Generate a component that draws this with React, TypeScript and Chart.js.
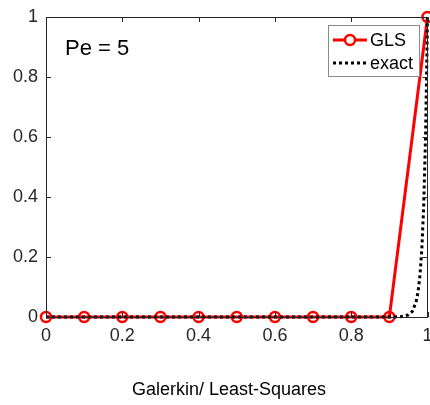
import { useEffect, useRef } from "react";
import { Chart, registerables } from "chart.js";

Chart.register(...registerables);

// ---- data ----
const glsX = [0, 0.1, 0.2, 0.3, 0.4, 0.5, 0.6, 0.7, 0.8, 0.9, 1];
const glsY = [0, 0, 0, 0, 0, 0, 0, 0, 0, 0, 1];
const exactX = [0, 0.5, 0.9, 0.93, 0.95, 0.96, 0.97, 0.975, 0.98, 0.985, 0.99, 0.995, 1];
const exactY = [0, 0, 0, 0.001, 0.007, 0.018, 0.05, 0.082, 0.135, 0.223, 0.368, 0.607, 1];
const xTicks = [0, 0.2, 0.4, 0.6, 0.8, 1];
const yTicks = [0, 0.2, 0.4, 0.6, 0.8, 1];
const seriesNames = ["GLS", "exact"];
const annotationText = "Pe = 5";
const xTitleText = "Galerkin/ Least-Squares";

const FONT = "'Liberation Sans', Arial, Helvetica, sans-serif";
const AXIS = "#262626";
const RED = "rgb(255,0,0)";

const decorPlugin = {
  id: "decor",
  afterDraw(chart: any) {
    const { ctx, chartArea } = chart;
    const { left, right, top, bottom } = chartArea;
    const xs = chart.scales.x;
    const ys = chart.scales.y;
    ctx.save();
    // box
    ctx.strokeStyle = AXIS;
    ctx.lineWidth = 1;
    ctx.setLineDash([]);
    ctx.strokeRect(Math.round(left) + 0.5, Math.round(top) + 0.5, Math.round(right - left) - 1, Math.round(bottom - top));
    // inward ticks
    const tl = 5;
    ctx.beginPath();
    xTicks.forEach((v) => {
      const px = Math.round(xs.getPixelForValue(v)) + 0.5;
      ctx.moveTo(px, bottom);
      ctx.lineTo(px, bottom - tl);
      ctx.moveTo(px, top);
      ctx.lineTo(px, top + tl);
    });
    yTicks.forEach((v) => {
      const py = Math.round(ys.getPixelForValue(v)) + 0.5;
      ctx.moveTo(left, py);
      ctx.lineTo(left + tl, py);
      ctx.moveTo(right, py);
      ctx.lineTo(right - tl, py);
    });
    ctx.stroke();

    // annotation
    ctx.fillStyle = "#000";
    ctx.font = `22px ${FONT}`;
    ctx.textAlign = "left";
    ctx.textBaseline = "alphabetic";
    ctx.fillText(annotationText, 65, 55);

    // x title
    ctx.fillStyle = "#000";
    ctx.font = `18px ${FONT}`;
    ctx.textAlign = "center";
    ctx.textBaseline = "middle";
    ctx.fillText(xTitleText, 229, 390);

    // legend
    const lx = 328, ly = 25, lw = 91, lh = 51;
    ctx.fillStyle = "#fff";
    ctx.fillRect(lx, ly, lw, lh);
    ctx.strokeStyle = "#8a8a8a";
    ctx.lineWidth = 1;
    ctx.strokeRect(lx + 0.5, ly + 0.5, lw, lh);
    const rows = [40, 63];
    // GLS row
    ctx.strokeStyle = RED;
    ctx.lineWidth = 3;
    ctx.beginPath();
    ctx.moveTo(333, rows[0]);
    ctx.lineTo(367, rows[0]);
    ctx.stroke();
    ctx.lineWidth = 2.5;
    ctx.fillStyle = "#fff";
    ctx.beginPath();
    ctx.arc(350, rows[0], 5, 0, Math.PI * 2);
    ctx.fill();
    ctx.stroke();
    // exact row
    ctx.strokeStyle = "#000";
    ctx.lineWidth = 3;
    ctx.setLineDash([3, 3]);
    ctx.beginPath();
    ctx.moveTo(333, rows[1]);
    ctx.lineTo(367, rows[1]);
    ctx.stroke();
    ctx.setLineDash([]);
    ctx.fillStyle = "#000";
    ctx.font = `18px ${FONT}`;
    ctx.textAlign = "left";
    ctx.textBaseline = "middle";
    ctx.fillText(seriesNames[0], 370, rows[0] + 1);
    ctx.fillText(seriesNames[1], 370, rows[1] + 1);
    ctx.restore();
  },
};

export default function App() {
  const ref = useRef<HTMLCanvasElement | null>(null);
  useEffect(() => {
    if (!ref.current) return;
    const chart = new Chart(ref.current, {
      type: "line",
      data: {
        datasets: [
          {
            label: seriesNames[0],
            data: glsX.map((x, i) => ({ x, y: glsY[i] })),
            borderColor: RED,
            borderWidth: 3,
            pointRadius: 5,
            pointBorderWidth: 2.5,
            pointBorderColor: RED,
            pointBackgroundColor: "rgba(0,0,0,0)",
            pointStyle: "circle",
            tension: 0,
            clip: false as any,
            order: 1,
          },
          {
            label: seriesNames[1],
            data: exactX.map((x, i) => ({ x, y: exactY[i] })),
            borderColor: "#000",
            borderWidth: 3,
            borderDash: [3, 3],
            pointRadius: 0,
            tension: 0,
            clip: false as any,
            order: 0,
          },
        ],
      },
      options: {
        responsive: false,
        animation: false,
        devicePixelRatio: 1,
        layout: { autoPadding: false, padding: { left: 0, right: 2.5, top: 17, bottom: 0 } },
        plugins: {
          legend: { display: false },
          tooltip: { enabled: false },
        },
        scales: {
          x: {
            type: "linear",
            min: 0,
            max: 1,
            border: { display: false },
            grid: { display: false, drawTicks: false },
            afterBuildTicks: (s: any) => {
              s.ticks = xTicks.map((v) => ({ value: v }));
            },
            afterFit: (s: any) => {
              s.height = 88;
              s.paddingLeft = 0;
              s.paddingRight = 0;
            },
            ticks: {
              autoSkip: false,
              maxRotation: 0,
              padding: 8,
              color: AXIS,
              font: { family: FONT, size: 18 },
              callback: (v: any) => String(v),
            },
          },
          y: {
            type: "linear",
            min: 0,
            max: 1,
            border: { display: false },
            grid: { display: false, drawTicks: false },
            afterBuildTicks: (s: any) => {
              s.ticks = yTicks.map((v) => ({ value: v }));
            },
            afterFit: (s: any) => {
              s.width = 46;
              s.paddingTop = 0;
              s.paddingBottom = 0;
            },
            ticks: {
              autoSkip: false,
              padding: 8,
              color: AXIS,
              font: { family: FONT, size: 18 },
              callback: (v: any) => String(v),
            },
          },
        },
      },
      plugins: [decorPlugin],
    });
    return () => chart.destroy();
  }, []);
  return (
    <div style={{ position: "absolute", left: 0, top: 0, width: 430, height: 405, background: "#fff" }}>
      <canvas ref={ref} width={430} height={405} style={{ display: "block" }} />
    </div>
  );
}
